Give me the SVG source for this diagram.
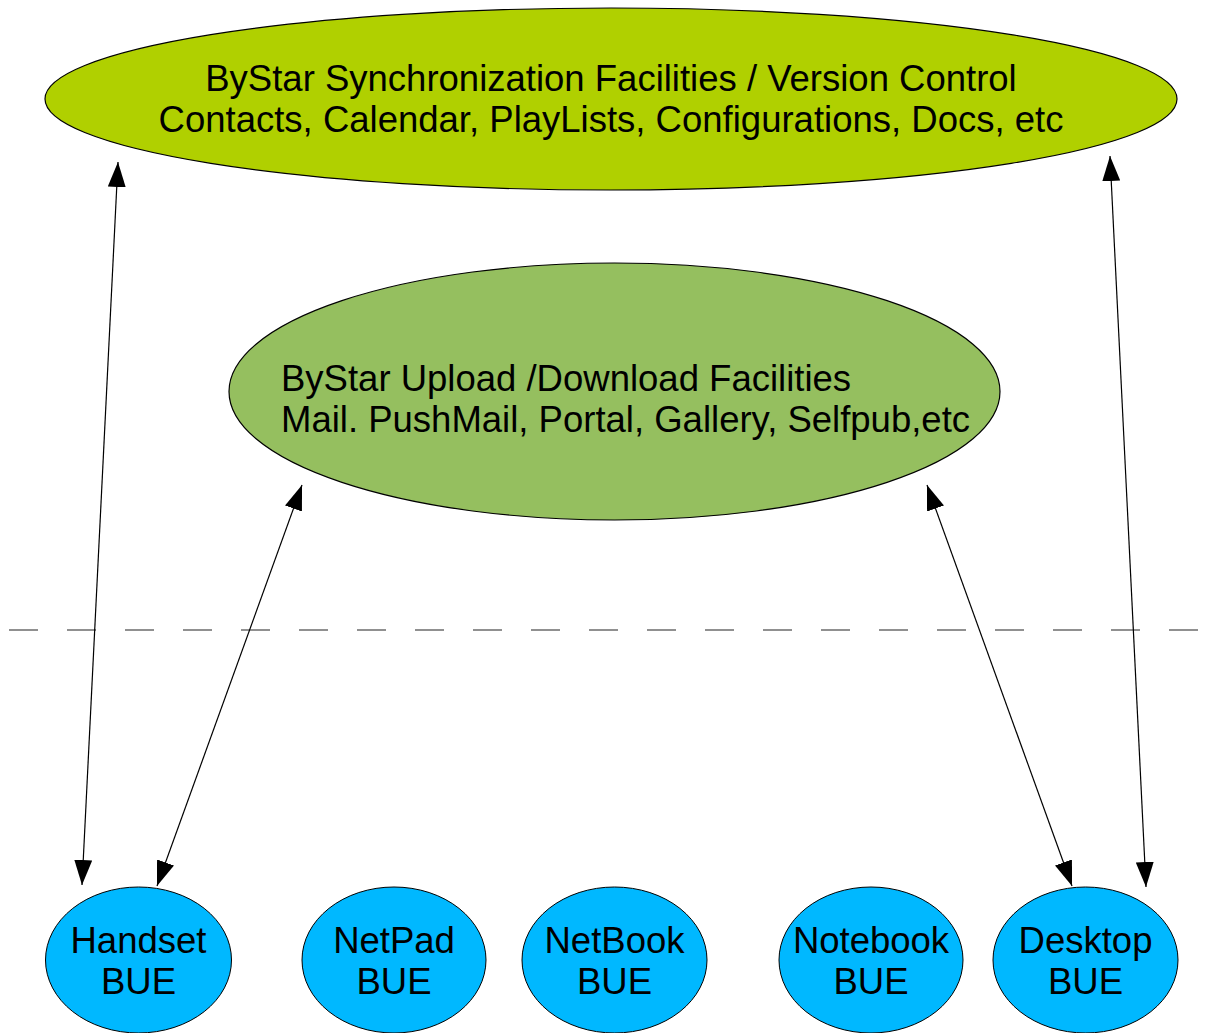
<svg xmlns="http://www.w3.org/2000/svg" width="1207" height="1033" viewBox="0 0 1207 1033">
<defs>
<marker id="ah" markerUnits="userSpaceOnUse" markerWidth="26" markerHeight="18" viewBox="0 0 26 18" refX="25" refY="9" orient="auto-start-reverse">
<path d="M0,0 L25,9 L0,18 z" fill="#000"/>
</marker>
<style>
.t{font-family:"Liberation Sans",Arial,sans-serif;font-size:36.5px;fill:#000}
.c{text-anchor:middle}
.bue{fill:#00b8ff;stroke:#000;stroke-width:1}
.con{stroke:#000;stroke-width:1.2;fill:none;marker-start:url(#ah);marker-end:url(#ah)}
</style>
</defs>
<rect width="1207" height="1033" fill="#fff"/>
<g id="sync">
<ellipse cx="611" cy="99" rx="566" ry="91" fill="#b0d000" stroke="#000" stroke-width="1.2"/>
<text class="t c" x="611" y="91">ByStar Synchronization Facilities / Version Control</text>
<text class="t c" x="611" y="132">Contacts, Calendar, PlayLists, Configurations, Docs, etc</text>
</g>
<g id="upload">
<ellipse cx="614.5" cy="391.5" rx="385.5" ry="128.5" fill="#95bf5f" stroke="#000" stroke-width="1.2"/>
<text class="t" x="281" y="391">ByStar Upload /Download Facilities</text>
<text class="t" x="281" y="432">Mail. PushMail, Portal, Gallery, Selfpub,etc</text>
</g>
<line id="divider" x1="9" y1="630" x2="1207" y2="630" stroke="#222" stroke-width="1.2" stroke-dasharray="29,29"/>
<g id="handset">
<ellipse class="bue" cx="138.5" cy="960" rx="93" ry="73"/>
<text class="t c" x="138.5" y="953">Handset</text>
<text class="t c" x="138.5" y="994">BUE</text>
</g>
<g id="netpad">
<ellipse class="bue" cx="394" cy="960" rx="92" ry="73"/>
<text class="t c" x="394" y="953">NetPad</text>
<text class="t c" x="394" y="994">BUE</text>
</g>
<g id="netbook">
<ellipse class="bue" cx="614.5" cy="960" rx="92.5" ry="73"/>
<text class="t c" x="614.5" y="953">NetBook</text>
<text class="t c" x="614.5" y="994">BUE</text>
</g>
<g id="notebook">
<ellipse class="bue" cx="871" cy="960" rx="92" ry="73"/>
<text class="t c" x="871" y="953">Notebook</text>
<text class="t c" x="871" y="994">BUE</text>
</g>
<g id="desktop">
<ellipse class="bue" cx="1085.5" cy="960" rx="92.5" ry="73"/>
<text class="t c" x="1085.5" y="953">Desktop</text>
<text class="t c" x="1085.5" y="994">BUE</text>
</g>
<g id="connectors">
<line class="con" x1="82" y1="885" x2="118" y2="162"/>
<line class="con" x1="157" y1="886" x2="302" y2="485"/>
<line class="con" x1="1072" y1="886" x2="927" y2="485"/>
<line class="con" x1="1146" y1="887" x2="1110" y2="156"/>
</g>
</svg>
